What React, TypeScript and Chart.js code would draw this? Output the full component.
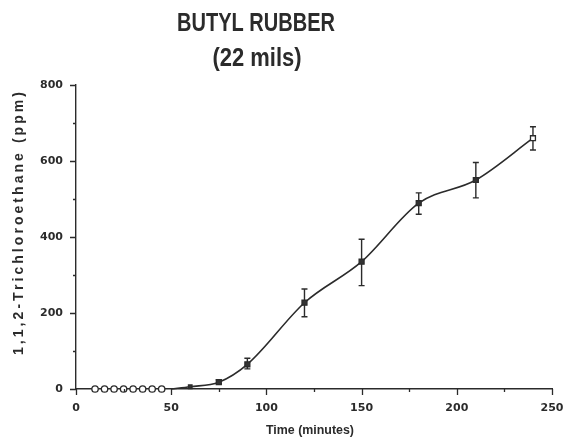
import React, { useEffect, useRef } from "react";
import { Chart, registerables } from "chart.js";

Chart.register(...registerables);

// ---- data ----
const titleLines = ["BUTYL RUBBER", "(22 mils)"];
const xTitle = "Time (minutes)";
const yTitle = "1,1,2-Trichloroethane (ppm)";

const pointTimes = [10, 15, 20, 25, 30, 35, 40, 45, 60, 75, 90, 120, 150, 180, 210, 240];
const pointMeans = [0, 0, 0, 0, 0, 0, 0, 0, 6, 18, 65, 227, 335, 489, 550, 660];
const errLow: (number | null)[] = [null, null, null, null, null, null, null, null, null, 14, 53, 190, 272, 460, 503, 629];
const errHigh: (number | null)[] = [null, null, null, null, null, null, null, null, null, 24, 81, 263, 394, 516, 596, 690];

const curveTimes = [50, 60, 75, 90, 120, 150, 180, 210, 240];
const curveValues = [0, 6, 18, 65, 227, 335, 489, 550, 660];

const xMin = 0, xMax = 250, xMajor = 50, xMinor = 25;
const yMin = 0, yMax = 800, yMajor = 200, yMinor = 100;

const INK = "#2b2b2b";

function drawFitted(ctx: CanvasRenderingContext2D, text: string, cx: number, cy: number, font: string, width: number, rotate = 0, mode: "scale" | "spacing" = "scale") {
  ctx.save();
  ctx.font = font;
  ctx.fillStyle = INK;
  ctx.textAlign = "center";
  ctx.textBaseline = "middle";
  ctx.translate(cx, cy);
  if (rotate) ctx.rotate(rotate);
  const w = ctx.measureText(text).width;
  if (mode === "scale") {
    ctx.scale(width / w, 1);
  } else {
    const sp = (width - w) / Math.max(1, text.length - 1);
    (ctx as any).letterSpacing = `${sp}px`;
  }
  ctx.fillText(text, 0, 0);
  ctx.restore();
}

const overlay = {
  id: "overlay",
  beforeDatasetsDraw(chart: any) {
    const { ctx, scales } = chart;
    const x = scales.x, y = scales.y;
    ctx.save();
    ctx.strokeStyle = INK;
    ctx.lineWidth = 1.4;
    pointTimes.forEach((t, i) => {
      const lo = errLow[i], hi = errHigh[i];
      if (lo == null || hi == null) return;
      const px = x.getPixelForValue(t);
      const pl = y.getPixelForValue(lo), ph = y.getPixelForValue(hi);
      ctx.beginPath();
      ctx.moveTo(px, pl); ctx.lineTo(px, ph);
      ctx.moveTo(px - 3, pl); ctx.lineTo(px + 3, pl);
      ctx.moveTo(px - 3, ph); ctx.lineTo(px + 3, ph);
      ctx.stroke();
    });
    ctx.restore();
  },
  afterDraw(chart: any) {
    const { ctx, scales } = chart;
    const x = scales.x, y = scales.y;
    ctx.save();
    ctx.strokeStyle = INK;
    ctx.lineWidth = 1.3;
    ctx.beginPath();
    for (let v = yMin; v <= yMax; v += yMinor) {
      const py = Math.round(y.getPixelForValue(v)) + 0.5;
      const len = v % yMajor === 0 ? 6 : 3;
      ctx.moveTo(x.left, py); ctx.lineTo(x.left - len, py);
    }
    for (let v = xMin; v <= xMax; v += xMinor) {
      const px = Math.round(x.getPixelForValue(v)) + 0.5;
      const len = v % xMajor === 0 ? 6 : 3;
      ctx.moveTo(px, y.bottom); ctx.lineTo(px, y.bottom + len);
    }
    ctx.stroke();
    ctx.restore();

    drawFitted(ctx, titleLines[0], 256, 24, "bold 25px 'Liberation Sans'", 158);
    drawFitted(ctx, titleLines[1], 257, 59, "bold 25px 'Liberation Sans'", 89);
    drawFitted(ctx, xTitle, 310, 431, "bold 12px 'Liberation Sans'", 88);
    drawFitted(ctx, yTitle, 19, 222, "bold 14px 'Liberation Sans'", 263, -Math.PI / 2, "spacing");
  },
};

export default function App() {
  const ref = useRef<HTMLCanvasElement>(null);
  useEffect(() => {
    if (!ref.current) return;
    const n = pointTimes.length;
    const chart = new Chart(ref.current, {
      type: "scatter",
      data: {
        datasets: [
          {
            label: "measured",
            data: pointTimes.map((t, i) => ({ x: t, y: pointMeans[i] })),
            showLine: false,
            pointStyle: pointTimes.map((t) => (t < 50 ? "circle" : "rect")) as any,
            pointRadius: pointTimes.map((t) => (t < 50 ? 3.2 : t === 60 ? 2.5 : 3.5)),
            pointBackgroundColor: pointTimes.map((t, i) => (t < 50 || i === n - 1 ? "#ffffff" : "#333333")),
            pointBorderColor: INK,
            pointBorderWidth: 1.3,
            clip: false as any,
          },
          {
            label: "curve",
            data: curveTimes.map((t, i) => ({ x: t, y: curveValues[i] })),
            showLine: true,
            borderColor: INK,
            borderWidth: 1.6,
            pointRadius: 0,
            cubicInterpolationMode: "monotone",
            fill: false,
            clip: false as any,
          },
        ],
      },
      options: {
        responsive: false,
        animation: false,
        events: [],
        layout: { padding: { top: 85, right: 13, left: 0, bottom: 0 } },
        plugins: { legend: { display: false }, tooltip: { enabled: false }, title: { display: false } },
        scales: {
          x: {
            type: "linear",
            min: xMin,
            max: xMax,
            afterFit: (s: any) => { s.height = 52; s.paddingLeft = 0; s.paddingRight = 0; },
            grid: { display: true, drawOnChartArea: false, drawTicks: true, tickLength: 6, color: "rgba(0,0,0,0)" },
            border: { display: true, color: INK, width: 1.4 },
            ticks: {
              stepSize: xMinor,
              padding: 7,
              color: INK,
              font: { family: "'DejaVu Sans'", weight: "bold", size: 11 },
              callback: (v: any) => (Number(v) % xMajor === 0 ? String(v) : ""),
              maxRotation: 0,
              autoSkip: false,
            },
          },
          y: {
            type: "linear",
            min: yMin,
            max: yMax,
            afterFit: (s: any) => { s.width = 76; s.paddingTop = 0; s.paddingBottom = 0; },
            grid: { display: true, drawOnChartArea: false, drawTicks: true, tickLength: 6, color: "rgba(0,0,0,0)" },
            border: { display: true, color: INK, width: 1.4 },
            ticks: {
              stepSize: yMinor,
              padding: 7,
              color: INK,
              font: { family: "'DejaVu Sans'", weight: "bold", size: 11 },
              callback: (v: any) => (Number(v) % yMajor === 0 ? String(v) : ""),
              autoSkip: false,
            },
          },
        },
      },
      plugins: [overlay],
    } as any);
    return () => chart.destroy();
  }, []);
  return (
    <div style={{ position: "absolute", left: 0, top: 0, width: 565, height: 441, background: "#fff" }}>
      <canvas ref={ref} width={565} height={441} />
    </div>
  );
}
